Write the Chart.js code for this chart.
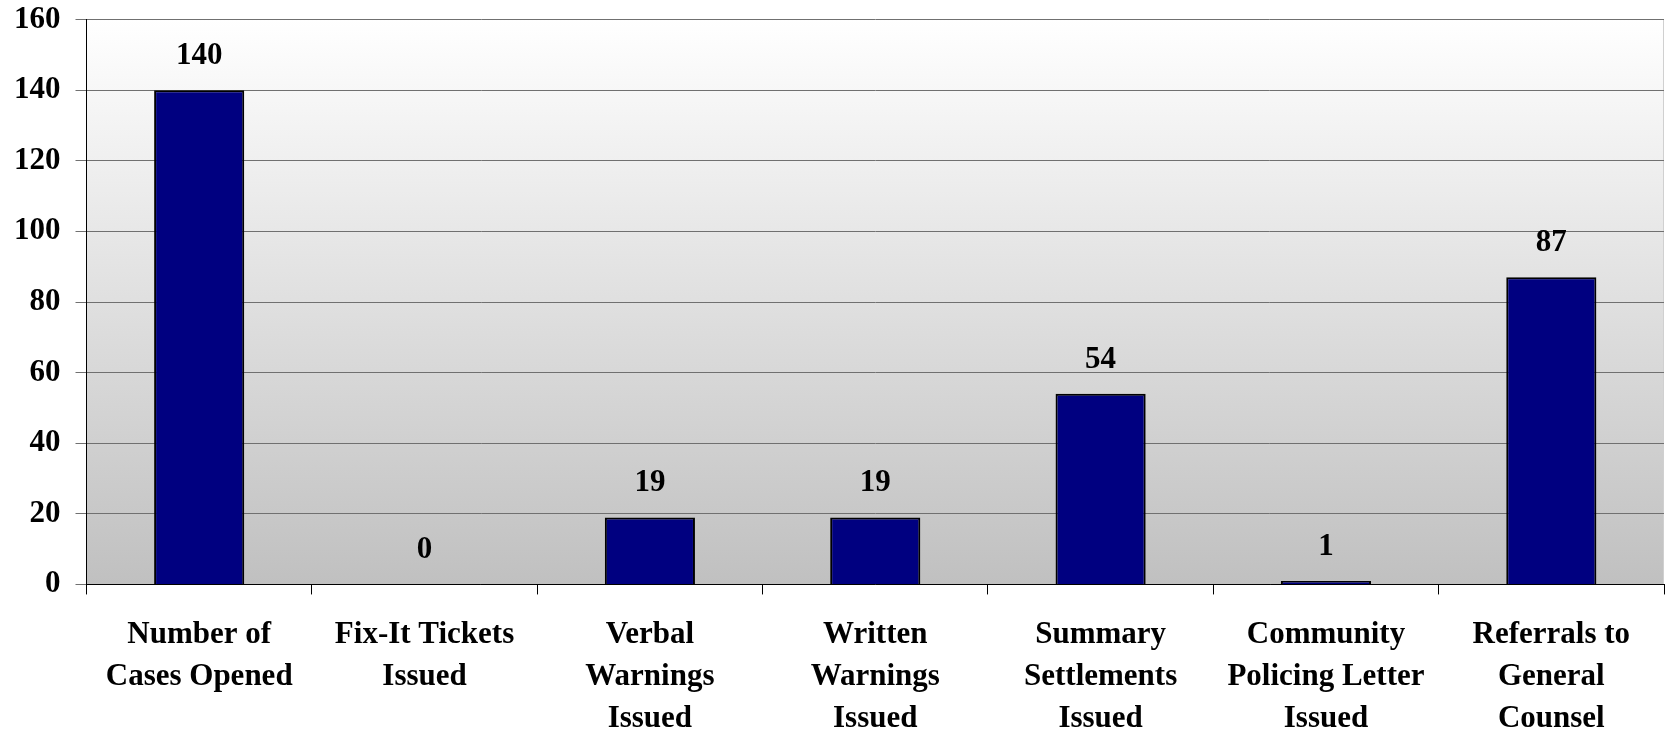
<!DOCTYPE html>
<html>
<head>
<meta charset="utf-8">
<script src="https://cdn.jsdelivr.net/npm/chart.js@4/dist/chart.umd.min.js"></script>
<style>
  body { margin: 0; background: #fff; }
  #wrap { width: 1665px; height: 733px; position: relative; }
</style>
</head>
<body>
<div id="wrap"><canvas id="chartContainer"></canvas></div>
<script>
// categories (multi-line labels) and values
let categories = [
  ['Number of', 'Cases Opened'],
  ['Fix-It Tickets', 'Issued'],
  ['Verbal', 'Warnings', 'Issued'],
  ['Written', 'Warnings', 'Issued'],
  ['Summary', 'Settlements', 'Issued'],
  ['Community', 'Policing Letter', 'Issued'],
  ['Referrals to', 'General', 'Counsel']
];
let counts = [140, 0, 19, 19, 54, 1, 87];
let yTicks = [0, 20, 40, 60, 80, 100, 120, 140, 160];

const fontFamily = '"Liberation Serif", "Times New Roman", serif';

// grey gradient behind the bars, white at the top
const plotBackground = {
  id: 'plotBackground',
  beforeDraw(chart) {
    let ctx = chart.ctx;
    let a = chart.chartArea;
    let g = ctx.createLinearGradient(0, a.top, 0, a.bottom);
    g.addColorStop(0, '#ffffff');
    g.addColorStop(1, '#c0c0c0');
    ctx.save();
    ctx.fillStyle = g;
    ctx.fillRect(a.left, a.top, a.right - a.left, a.bottom - a.top);
    // faint border on the right of the plot area
    ctx.strokeStyle = '#d0d0d0';
    ctx.lineWidth = 1;
    ctx.beginPath();
    ctx.moveTo(a.right - 0.5, a.top);
    ctx.lineTo(a.right - 0.5, a.bottom);
    ctx.stroke();
    ctx.restore();
  }
};

// the value written over each bar
const valueLabels = {
  id: 'valueLabels',
  afterDatasetsDraw(chart) {
    let ctx = chart.ctx;
    let meta = chart.getDatasetMeta(0);
    ctx.save();
    ctx.font = 'bold 31px ' + fontFamily;
    ctx.fillStyle = '#000';
    ctx.textAlign = 'center';
    ctx.textBaseline = 'middle';
    meta.data.forEach((bar, i) => {
      ctx.fillText(String(counts[i]), bar.x, bar.y - 34);
    });
    ctx.restore();
  }
};

let chart = new Chart(document.getElementById('chartContainer'), {
  type: 'bar',
  data: {
    labels: categories,
    datasets: [{
      data: counts,
      backgroundColor: '#000080',
      borderColor: '#000000',
      borderWidth: 2,
      categoryPercentage: 0.8,
      barPercentage: 0.5
    }]
  },
  options: {
    responsive: true,
    maintainAspectRatio: false,
    animation: false,
    layout: { padding: { top: 0, right: 1, left: -1, bottom: -27 } },
    plugins: {
      legend: { display: false },
      tooltip: { enabled: false }
    },
    scales: {
      x: {
        offset: true,
        grid: {
          offset: true,
          drawOnChartArea: false,
          drawTicks: true,
          tickLength: 10,
          color: '#000'
        },
        border: { color: '#000', width: 1 },
        ticks: {
          color: '#000',
          maxRotation: 0,
          autoSkip: false,
          padding: 20,
          font: { family: fontFamily, size: 31, weight: 'bold', lineHeight: 1.35 }
        }
      },
      y: {
        min: 0,
        max: 160,
        afterBuildTicks(axis) {
          axis.ticks = yTicks.map(v => ({ value: v }));
        },
        grid: {
          color: '#707070',
          tickLength: 11,
          drawTicks: true
        },
        border: { color: '#000', width: 1 },
        ticks: {
          color: '#000',
          padding: 15,
          font: { family: fontFamily, size: 31, weight: 'bold', lineHeight: 0.3 }
        }
      }
    }
  },
  plugins: [plotBackground, valueLabels]
});
</script>
</body>
</html>
